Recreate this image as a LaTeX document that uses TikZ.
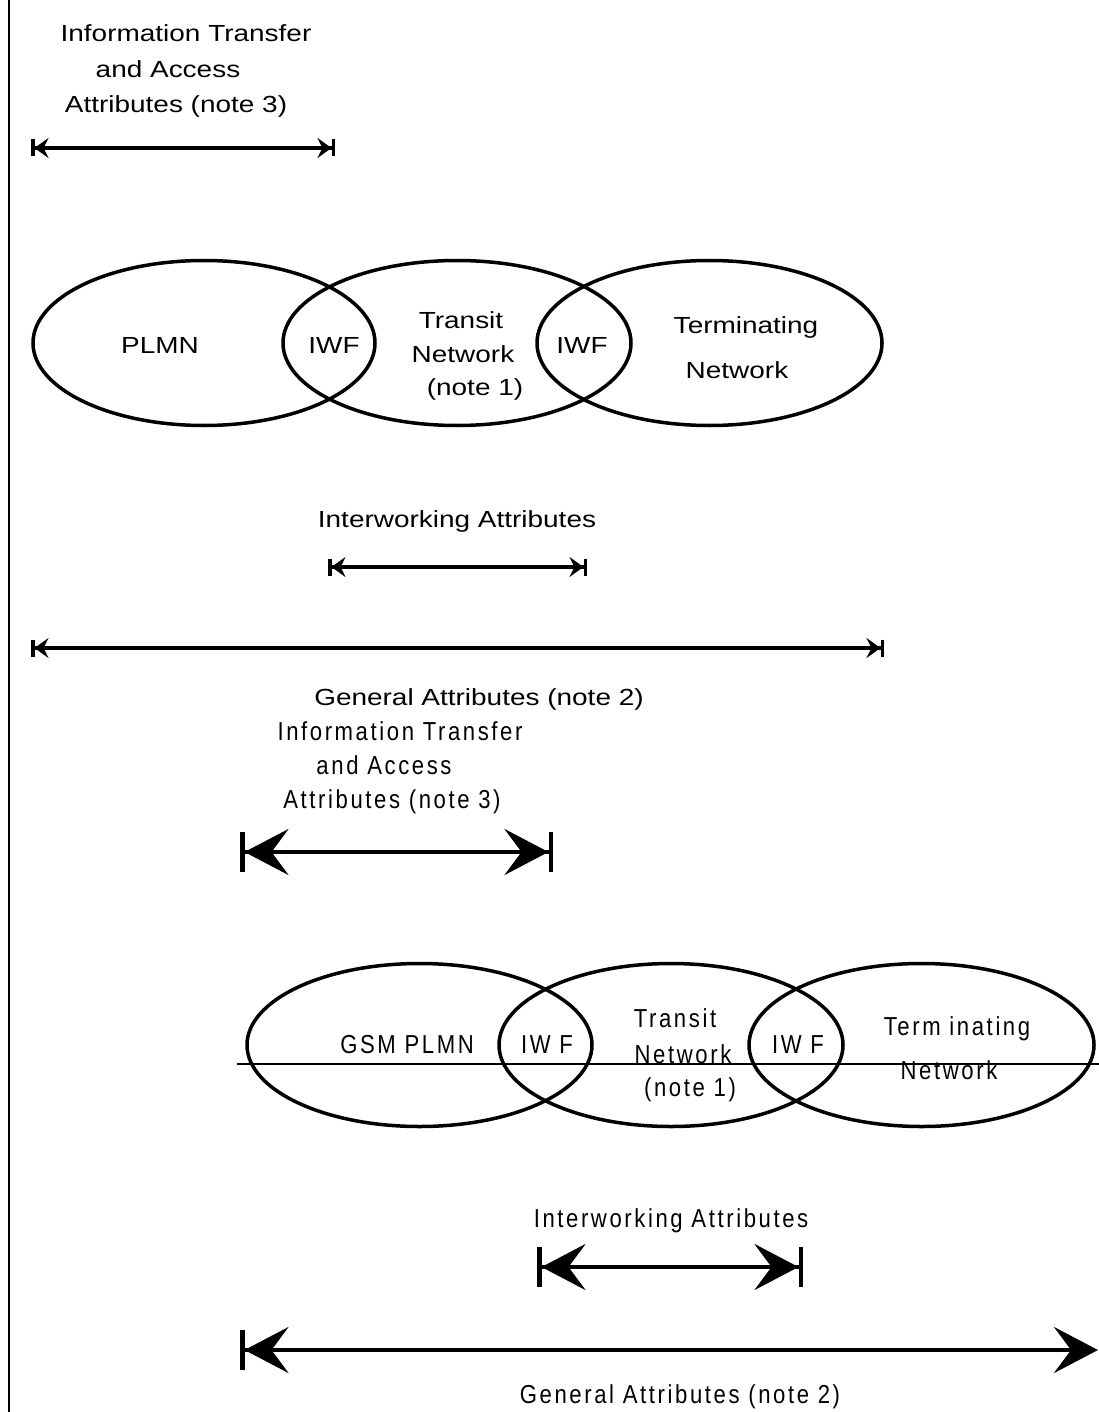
\documentclass[tikz,border=0pt]{standalone}
\usepackage{fontspec}
\setmainfont{Liberation Sans}
\newfontfamily\topfont[FakeStretch=1.2]{Liberation Sans}
\newfontfamily\botfont[FakeStretch=0.85,LetterSpace=10]{Liberation Sans}
\usetikzlibrary{arrows.meta,shapes.geometric}
\tikzset{
  lbl/.style={anchor=base,inner sep=0pt,font=\topfont\fontsize{23.3}{28}\selectfont},
  blbl/.style={anchor=base,inner sep=0pt,font=\botfont\fontsize{26}{30}\selectfont},
  net/.style={draw,ellipse,line width=3.5pt,inner sep=0pt,minimum height=#1},
  sarr/.style={line width=3.5pt,
    {Bar[width=17pt,line width=3.5pt,sep=0pt]Stealth[length=14pt,width=20pt,inset=5pt]}-{Stealth[length=14pt,width=20pt,inset=5pt]Bar[width=17pt,line width=3.5pt,sep=0pt]}},
  barr/.style={line width=4pt,
    {Bar[width=40pt,line width=4.5pt,sep=0pt]Stealth[length=44pt,width=46pt,inset=17pt]}-{Stealth[length=44pt,width=46pt,inset=17pt]Bar[width=40pt,line width=4.5pt,sep=0pt]}},
  barrnobar/.style={line width=4pt,
    {Bar[width=40pt,line width=4.5pt,sep=0pt]Stealth[length=44pt,width=46pt,inset=17pt]}-{Stealth[length=44pt,width=46pt,inset=17pt]}},
}
\begin{document}
\begin{tikzpicture}[x=1pt,y=-1pt]
\fill[white] (0,0) rectangle (1099,1412);
\useasboundingbox (0,0) rectangle (1099,1412);

% left vertical rule
\coordinate (vtop) at (9,0);
\coordinate (vbot) at (9,1412);
\draw[line width=2.8pt] (vtop) -- (vbot);

% ===== upper diagram =====
\node[lbl] (t1) at (186,42) {Information Transfer};
\node[lbl] (t2) at (168,78) {and Access};
\node[lbl] (t3) at (176,113) {Attributes (note 3)};
\coordinate (a1l) at (31,148);
\coordinate (a1r) at (335,148);
\draw[sarr] (a1l) -- (a1r);

\node[net=165pt,minimum width=342pt] (plmn) at (204,343) {};
\node[net=165pt,minimum width=348pt] (transit) at (457,343) {};
\node[net=165pt,minimum width=345pt] (term) at (709.5,343) {};
\node[lbl] (plmnt) at (160,353) {PLMN};
\node[lbl] (iwf1) at (334,353) {IWF};
\node[lbl] (tr1) at (461,328) {Transit};
\node[lbl] (tr2) at (463,362) {Network};
\node[lbl] (tr3) at (475,395) {(note 1)};
\node[lbl] (iwf2) at (582,353) {IWF};
\node[lbl] (te1) at (746,333) {Terminating};
\node[lbl] (te2) at (737,378) {Network};

\node[lbl] (iwa) at (457,527) {Interworking Attributes};
\coordinate (a2l) at (328,567);
\coordinate (a2r) at (587,567);
\draw[sarr] (a2l) -- (a2r);

\coordinate (a3l) at (31,648);
\coordinate (a3r) at (884,648);
\draw[sarr] (a3l) -- (a3r);
\node[lbl] (ga) at (479,705) {General Attributes (note 2)};

% ===== lower diagram =====
\node[blbl] (b1) at (400,740) {Information Transfer};
\node[blbl] (b2) at (384,774) {and Access};
\node[blbl] (b3) at (392,808) {Attributes (note 3)};
\coordinate (b1l) at (240,852);
\coordinate (b1r) at (553,852);
\draw[barr] (b1l) -- (b1r);

\node[net=163pt,minimum width=345pt] (gsm) at (419.5,1045) {};
\node[net=163pt,minimum width=344pt] (btransit) at (671,1045) {};
\node[net=163pt,minimum width=345pt] (bterm) at (921.5,1045) {};
\coordinate (hl) at (237,1064);
\coordinate (hr) at (1099,1064);
\draw[line width=2.2pt] (hl) -- (hr);
\node[blbl] (gsmt) at (407,1053) {GSM PLMN};
\node[blbl] (biwf1) at (547,1053) {IW F};
\node[blbl] (btr1) at (675,1027) {Transit};
\node[blbl] (btr2) at (683,1063) {Network};
\node[blbl] (btr3) at (690,1096) {(note 1)};
\node[blbl] (biwf2) at (798,1053) {IW F};
\node[blbl] (bte1) at (957,1035) {Term inating};
\node[blbl] (bte2) at (949,1079) {Network};

\node[blbl] (biwa) at (671,1227) {Interworking Attributes};
\coordinate (b2l) at (537,1267);
\coordinate (b2r) at (803,1267);
\draw[barr] (b2l) -- (b2r);

\coordinate (b3l) at (240,1350);
\coordinate (b3r) at (1098,1350);
\draw[barrnobar] (b3l) -- (b3r);
\node[blbl] (bga) at (680,1403) {General Attributes (note 2)};
\end{tikzpicture}
\end{document}
